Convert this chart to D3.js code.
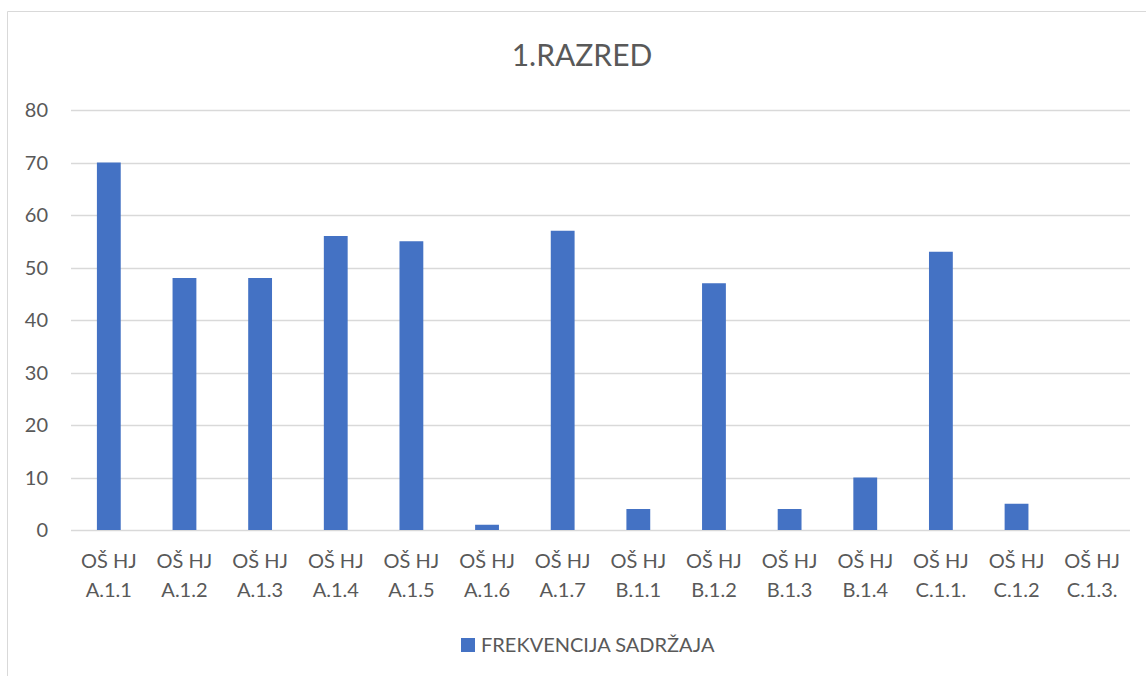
<!DOCTYPE html>
<html><head><meta charset="utf-8">
<script src="https://cdn.jsdelivr.net/npm/d3@7"></script>
<style>body{margin:0;background:#fff;} svg{display:block;font-family:Lato,"Open Sans",sans-serif;}</style>
</head><body>
<svg id="c" width="1146" height="676"></svg>
<script>
const title = "1.RAZRED";
const seriesName = "FREKVENCIJA SADRŽAJA";
const categories = [
  ["OŠ HJ","A.1.1"],["OŠ HJ","A.1.2"],["OŠ HJ","A.1.3"],["OŠ HJ","A.1.4"],["OŠ HJ","A.1.5"],
  ["OŠ HJ","A.1.6"],["OŠ HJ","A.1.7"],["OŠ HJ","B.1.1"],["OŠ HJ","B.1.2"],["OŠ HJ","B.1.3"],
  ["OŠ HJ","B.1.4"],["OŠ HJ","C.1.1."],["OŠ HJ","C.1.2"],["OŠ HJ","C.1.3."]
];
const values = [70,48,48,56,55,1,57,4,47,4,10,53,5,0];
const yTicks = [0,10,20,30,40,50,60,70,80];

(function(){
const svg = d3.select("#c");
const textColor = "#595959";
svg.append("path").attr("d","M7.5,676 L7.5,11.5 L1146,11.5").attr("fill","none").attr("stroke","#d9d9d9").attr("stroke-width",1);

const pL = 71, pR = 1130, pT = 110, pB = 530;
const keys = categories.map((c,i)=>i);
const x = d3.scaleBand().domain(keys).range([pL,pR]).paddingInner(0.685).paddingOuter(0.3425);
const y = d3.scaleLinear().domain([0,80]).range([pB,pT]);

svg.append("g").selectAll("line").data(yTicks).join("line")
  .attr("x1",pL).attr("x2",pR)
  .attr("y1",d=>Math.round(y(d))+0.5).attr("y2",d=>Math.round(y(d))+0.5)
  .attr("stroke","#d9d9d9").attr("stroke-width",1.5);

svg.append("g").selectAll("text").data(yTicks).join("text")
  .attr("x",48).attr("y",d=>y(d)).attr("dy","0.36em")
  .attr("text-anchor","end").attr("fill",textColor).attr("font-size",20)
  .text(d=>d);

svg.append("g").selectAll("rect").data(values).join("rect")
  .attr("x",(d,i)=>x(i)).attr("width",x.bandwidth())
  .attr("y",d=>y(d)).attr("height",d=>y(0)-y(d))
  .attr("fill","#4472C4");

const xl = svg.append("g").selectAll("text").data(categories).join("text")
  .attr("text-anchor","middle").attr("fill",textColor).attr("font-size",20);
xl.append("tspan").attr("x",(d,i)=>x(i)+x.bandwidth()/2).attr("y",568).text(d=>d[0]);
xl.append("tspan").attr("x",(d,i)=>x(i)+x.bandwidth()/2).attr("y",597).text(d=>d[1]);

svg.append("text").attr("x",582).attr("y",66).attr("text-anchor","middle")
  .attr("fill",textColor).attr("font-size",30).text(title);

svg.append("rect").attr("x",461).attr("y",638).attr("width",14).attr("height",14).attr("fill","#4472C4");
svg.append("text").attr("x",481).attr("y",652).attr("fill",textColor).attr("font-size",20).text(seriesName);
})();
</script>
</body></html>
